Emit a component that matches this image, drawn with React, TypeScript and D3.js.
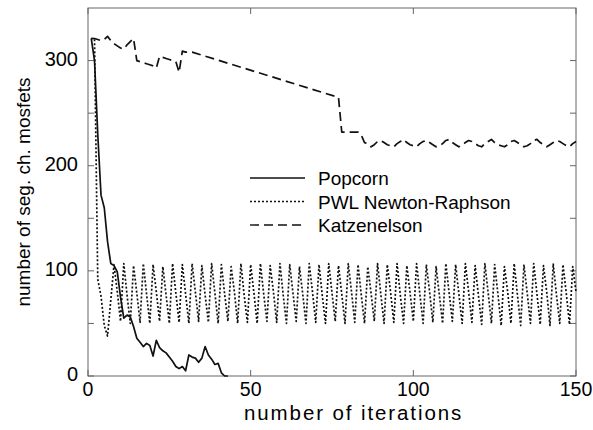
import React from "react";
import * as d3 from "d3";

const xTicks = [0, 50, 100, 150];
const yTicks = [0, 100, 200, 300];
const yMinorTicks = [50, 150, 250];

const popcornIter = [1, 2, 3, 4, 5, 6, 7, 8, 9, 10, 11, 12, 13, 14, 15, 16, 17, 18, 19, 20, 21, 22, 23, 24, 25, 26, 27, 28, 29, 30, 31, 32, 33, 34, 35, 36, 37, 38, 39, 40, 41, 42, 43];
const popcornVal = [321, 300, 230, 172, 160, 128, 107, 105, 99, 75, 55, 58, 56, 47, 36, 32, 28, 31, 29, 19, 34, 27, 24, 22, 18, 14, 9, 7, 9, 5, 20, 18, 17, 13, 17, 28, 20, 16, 11, 12, 3, 0, 0];

const pwlHeadIter = [1, 2, 3, 4, 5, 6, 7];
const pwlHeadVal = [321, 321, 92, 76, 48, 38, 72];
// values from iteration 8 onward
const pwlTail = [
  106, 80, 52, 107, 77, 50, 105, 79, 51, 107, 78, 50, 106, 80, 52, 104, 77, 50,
  107, 79, 51, 106, 78, 50, 107, 80, 52, 105, 77, 51, 107, 79, 50, 106, 78, 52,
  104, 80, 50, 107, 77, 51, 106, 79, 50, 107, 78, 52, 105, 80, 51, 107, 77, 50,
  106, 79, 52, 104, 78, 50, 107, 80, 51, 106, 77, 50, 107, 79, 52, 105, 78, 50,
  107, 80, 51, 106, 77, 50, 104, 79, 52, 107, 78, 50, 106, 80, 51, 107, 77, 50,
  105, 79, 52, 107, 78, 50, 106, 80, 51, 104, 77, 50, 107, 79, 52, 106, 78, 50,
  107, 80, 51, 105, 77, 49, 107, 79, 50, 106, 78, 48, 104, 80, 50, 107, 77, 48,
  106, 79, 50, 107, 78, 49, 105, 80, 48, 107, 77, 50, 106, 79, 49, 104, 80,
];

const katzIter = [1, 2, 3, 4, 5, 6, 7, 8, 9, 10, 11, 12, 13, 14, 15, 16, 17, 18, 19, 20, 21, 22, 23, 24, 25, 26, 27, 28, 29, 30, 31, 32, 77, 78, 83, 84, 85];
const katzVal = [321, 321, 320, 319, 320, 323, 319, 316, 314, 312, 311, 315, 318, 321, 300, 299, 298, 297, 296, 295, 293, 304, 303, 302, 301, 300, 299, 289, 309, 308, 308, 308, 265, 232, 232, 229, 222];
// values from iteration 86 to 150
const katzTail = [
  221, 218, 220, 223, 224, 222, 220, 219, 218, 221, 223, 225, 222, 220, 219, 218,
  221, 223, 224, 222, 220, 218, 219, 221, 224, 225, 222, 220, 218, 220, 222, 224,
  223, 221, 219, 218, 221, 223, 225, 222, 220, 219, 218, 220, 223, 224, 222, 220,
  218, 219, 221, 224, 225, 222, 220, 218, 220, 222, 224, 223, 221, 219, 218, 221, 223,
];

const legendLabels = ["Popcorn", "PWL Newton-Raphson", "Katzenelson"];

const W = 593;
const H = 430;
const L = 88, R = 576, T = 8, B = 376;
const FONT = "'Liberation Sans', Arial, Helvetica, sans-serif";

export default function App() {
  const x = d3.scaleLinear().domain([0, 150]).range([L, R]);
  const y = d3.scaleLinear().domain([0, 350]).range([B, T]);
  const line = d3.line<[number, number]>().x((d) => x(d[0])).y((d) => y(d[1]));

  const popcorn: [number, number][] = popcornIter.map((it, i) => [it, popcornVal[i]]);
  const pwl: [number, number][] = [
    ...pwlHeadIter.map((it, i) => [it, pwlHeadVal[i]] as [number, number]),
    ...pwlTail.map((v, i) => [8 + i, v] as [number, number]),
  ];
  const katz: [number, number][] = [
    ...katzIter.map((it, i) => [it, katzVal[i]] as [number, number]),
    ...katzTail.map((v, i) => [86 + i, v] as [number, number]),
  ];

  const styles = [
    { dash: "none", w: 1.7 },
    { dash: "2,2", w: 1.7 },
    { dash: "9,5", w: 1.7 },
  ];
  const series = [popcorn, pwl, katz];
  const tickLen = 6;
  const frame = "#666";

  return (
    <svg width={W} height={H} style={{ position: "absolute", left: 0, top: 0, background: "#fff" }}>
      <rect x={0} y={0} width={W} height={H} fill="#fff" />
      <g>
        <rect x={L} y={T} width={R - L} height={B - T} fill="none" stroke={frame} strokeWidth={1} />
        {xTicks.map((t) => (
          <g key={"x" + t}>
            <line x1={x(t)} x2={x(t)} y1={B} y2={B - tickLen} stroke={frame} />
            <line x1={x(t)} x2={x(t)} y1={T} y2={T + tickLen} stroke={frame} />
            <text x={x(t)} y={391} textAnchor="middle" dominantBaseline="middle" fontFamily={FONT} fontSize={19.5}>{t}</text>
          </g>
        ))}
        {[...yTicks, ...yMinorTicks].map((t) => (
          <g key={"y" + t}>
            <line x1={L} x2={L + tickLen} y1={y(t)} y2={y(t)} stroke={frame} />
            <line x1={R} x2={R - tickLen} y1={y(t)} y2={y(t)} stroke={frame} />
          </g>
        ))}
        {yTicks.map((t) => (
          <text key={"yl" + t} x={78} y={y(t)} textAnchor="end" dominantBaseline="middle" fontFamily={FONT} fontSize={20}>{t}</text>
        ))}
      </g>
      {series.map((s, i) => (
        <path key={i} d={line(s) || ""} fill="none" stroke="#111" strokeWidth={styles[i].w} strokeDasharray={styles[i].dash} strokeLinejoin="round" />
      ))}
      <g>
        {legendLabels.map((lab, i) => {
          const yy = 180 + i * 23.5;
          return (
            <g key={lab}>
              <line x1={250} x2={305} y1={yy - 2} y2={yy - 2} stroke="#111" strokeWidth={1.4} strokeDasharray={styles[i].dash} />
              <text x={318} y={yy} dominantBaseline="middle" fontFamily={FONT} fontSize={19}>{lab}</text>
            </g>
          );
        })}
      </g>
      <text x={244} y={415} dominantBaseline="middle" fontFamily={FONT} fontSize={20.5} letterSpacing={1.9}>number of iterations</text>
      <text transform={`translate(25, ${(T + B) / 2}) rotate(-90)`} textAnchor="middle" dominantBaseline="middle" fontFamily={FONT} fontSize={19}>number of seg. ch. mosfets</text>
    </svg>
  );
}
